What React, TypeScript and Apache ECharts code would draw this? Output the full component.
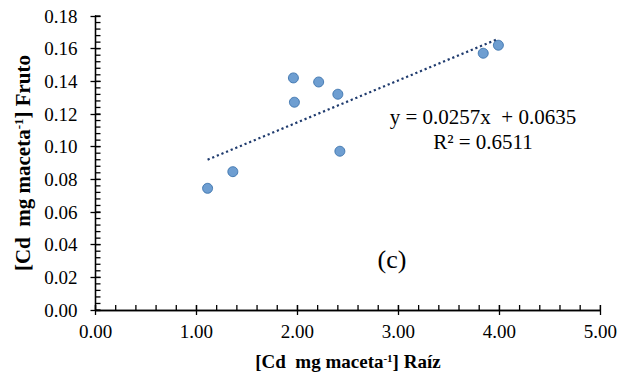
import React, { useEffect, useRef } from "react";
import * as echarts from "echarts";

// Cd content per pot: root (x) vs fruit (y)
const raizCd = [1.11, 1.36, 1.96, 1.97, 2.21, 2.4, 2.42, 3.84, 3.99];
const frutoCd = [0.0745, 0.0847, 0.1421, 0.1272, 0.1396, 0.1321, 0.0972, 0.1572, 0.1621];

// Linear fit reported on the chart
const fitSlope = 0.0257;
const fitIntercept = 0.0635;
const fitR2 = "0.6511";

const xTickRange = [0, 5];
const yTickRange = [0, 0.18];
const xMajorStep = 1;
const yMajorStep = 0.02;
const minorSplits = 5;

const FONT = "Liberation Serif";

export default function App() {
  const ref = useRef<HTMLDivElement>(null);

  useEffect(() => {
    if (!ref.current) return;
    const chart = echarts.init(ref.current, null, { renderer: "svg" });

    const points = raizCd.map((x, i) => [x, frutoCd[i]]);
    const xMin = Math.min(...raizCd);
    const xMax = Math.max(...raizCd);
    const trend = [
      [xMin, fitIntercept + fitSlope * xMin],
      [xMax, fitIntercept + fitSlope * xMax],
    ];

    // minor tick positions along each axis
    const xMinorStep = xMajorStep / minorSplits;
    const yMinorStep = yMajorStep / minorSplits;
    const xMinor: number[] = [];
    const nx = Math.round((xTickRange[1] - xTickRange[0]) / xMinorStep);
    for (let i = 0; i <= nx; i++) xMinor.push(+(xTickRange[0] + i * xMinorStep).toFixed(4));
    const yMinor: number[] = [];
    const ny = Math.round((yTickRange[1] - yTickRange[0]) / yMinorStep);
    for (let i = 0; i <= ny; i++) yMinor.push(+(yTickRange[0] + i * yMinorStep).toFixed(5));

    const tickStyle = { color: "#000", width: 1.3 };
    const fmt = (v: number) => v.toFixed(2);
    const blank = () => "";
    const titleRich = (size: number) => ({
      b: { fontFamily: FONT, fontWeight: "bold", fontSize: size, color: "#000" },
      sup: { fontFamily: FONT, fontWeight: "bold", fontSize: Math.round(size * 0.6), color: "#000", verticalAlign: "top" },
    });

    // Tick-only overlay axis giving the outer half of the major ticks.
    const overlay = (dim: "x" | "y", step: number) => ({
      type: "value",
      position: dim === "x" ? "bottom" : "left",
      min: dim === "x" ? xTickRange[0] : yTickRange[0],
      max: dim === "x" ? xTickRange[1] : yTickRange[1],
      interval: step,
      splitLine: { show: false },
      axisLine: { show: true, lineStyle: tickStyle },
      axisLabel: { show: true, formatter: blank },
      axisTick: { show: true, inside: false, length: 5, lineStyle: tickStyle },
    });

    chart.setOption({
      animation: false,
      grid: { left: 95.5, right: 19.5, top: 16, bottom: 72 },
      xAxis: [
        {
          type: "value",
          min: xTickRange[0],
          max: xTickRange[1],
          interval: xMajorStep,
          splitLine: { show: false },
          axisLine: { show: true, lineStyle: tickStyle },
          axisTick: { show: true, inside: true, length: 5, lineStyle: tickStyle },
          axisLabel: { margin: 12, fontFamily: FONT, fontSize: 19, color: "#000", formatter: fmt },
          name: "{b|[Cd  mg maceta}{sup|-1}{b|] Raíz}",
          nameLocation: "middle",
          nameGap: 42,
          nameTextStyle: { fontFamily: FONT, rich: titleRich(19) },
        },
        overlay("x", xMajorStep),
      ],
      yAxis: [
        {
          type: "value",
          min: yTickRange[0],
          max: yTickRange[1],
          interval: yMajorStep,
          splitLine: { show: false },
          axisLine: { show: true, lineStyle: tickStyle },
          axisTick: { show: true, inside: true, length: 5, lineStyle: tickStyle },
          axisLabel: { margin: 18, fontFamily: FONT, fontSize: 19, color: "#000", formatter: fmt },
          name: "{b|[Cd  mg maceta}{sup|-1}{b|] Fruto}",
          nameLocation: "middle",
          nameGap: 62,
          nameRotate: 90,
          nameTextStyle: { fontFamily: FONT, rich: titleRich(21) },
        },
        overlay("y", yMajorStep),
      ],
      series: [
        {
          type: "line",
          data: trend,
          symbol: "none",
          silent: true,
          lineStyle: { color: "#1f3b6e", width: 2.2, type: [2.2, 2.8] },
          z: 2,
        },
        {
          type: "scatter",
          data: points,
          symbol: "circle",
          symbolSize: 10,
          itemStyle: { color: "#4a86c6", borderColor: "#2e69a6", borderWidth: 1 },
          z: 3,
        },
      ],
    });

    // Minor ticks placed through the grid's own scale.
    const finder = { xAxisIndex: 0, yAxisIndex: 0 };
    const minorLines: any[] = [];
    xMinor.forEach((v) => {
      const p = chart.convertToPixel(finder, [v, yTickRange[0]]) as number[];
      minorLines.push({
        type: "line",
        silent: true,
        z: 10,
        shape: { x1: p[0], y1: p[1], x2: p[0], y2: p[1] - 5 },
        style: { stroke: "#000", lineWidth: 1.3 },
      });
    });
    yMinor.forEach((v) => {
      const p = chart.convertToPixel(finder, [xTickRange[0], v]) as number[];
      minorLines.push({
        type: "line",
        silent: true,
        z: 10,
        shape: { x1: p[0], y1: p[1], x2: p[0] + 5, y2: p[1] },
        style: { stroke: "#000", lineWidth: 1.3 },
      });
    });

    chart.setOption({
      graphic: [
        {
          type: "text",
          x: 483,
          y: 104,
          style: {
            text: "y = 0.0257x  + 0.0635\nR² = " + fitR2,
            fill: "#000",
            fontFamily: FONT,
            fontSize: 21,
            align: "center",
            lineHeight: 25,
          },
        },
        {
          type: "text",
          x: 392,
          y: 246,
          style: { text: "(c)", fill: "#000", fontFamily: FONT, fontSize: 26, align: "center" },
        },
        ...minorLines,
      ],
    });

    return () => chart.dispose();
  }, []);

  return (
    <div
      ref={ref}
      style={{ position: "fixed", left: 0, top: 0, width: 620, height: 382, background: "#fff" }}
    />
  );
}
